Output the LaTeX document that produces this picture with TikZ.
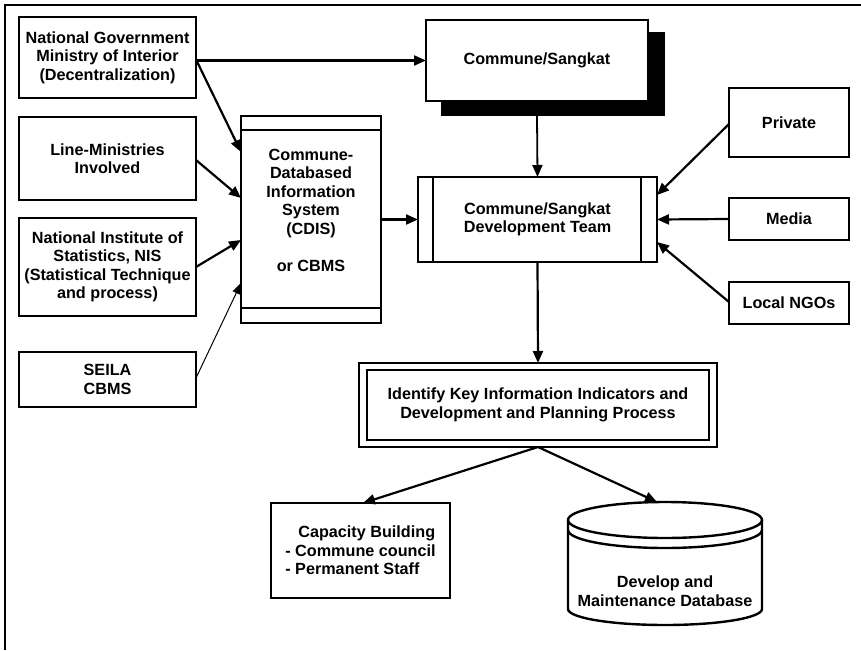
\documentclass[tikz,border=0pt]{standalone}
\usepackage{fontspec}
\setmainfont{Liberation Sans}
\usetikzlibrary{arrows.meta,calc}
\begin{document}
\begin{tikzpicture}[x=1pt,y=-1pt,
  lbl/.style={font=\bfseries\fontsize{16.2}{18.5}\selectfont},
  box/.style={draw, line width=2.6pt, fill=white, inner sep=0pt, outer sep=0pt, align=center, lbl},
  thinbox/.style={box, line width=1.1pt},
  txt/.style={inner sep=0pt, outer sep=0pt, align=center, lbl},
  arr/.style={line width=2.2pt, -{Triangle[length=12pt,width=10pt]}},
  thinarr/.style={line width=1pt, -{Triangle[length=11pt,width=8pt]}},
  inner/.style={line width=2.4pt}]
\useasboundingbox (0,0) rectangle (861,650);
% frame
\draw[line width=2.4pt] (861,5) -- (5,5) -- (5,650);

% left column
\node[box, minimum width=177pt, minimum height=81pt] (natgov) at (107.5,57.5)
  {National Government\\Ministry of Interior\\(Decentralization)};
\node[box, minimum width=177pt, minimum height=83pt] (linemin) at (107.5,158.5)
  {Line-Ministries\\Involved};
\node[box, minimum width=177pt, minimum height=98pt] (nis) at (107.5,267)
  {National Institute of\\Statistics, NIS\\(Statistical Technique\\and process)};
\node[thinbox, minimum width=177pt, minimum height=55pt] (seila) at (107.5,379.5)
  {SEILA\\CBMS};

% CDIS
\node[box, minimum width=140pt, minimum height=207pt] (cdis) at (311,219.5) {};
\draw[inner] ([yshift=-14pt]cdis.north west) -- ([yshift=-14pt]cdis.north east);
\draw[inner] ([yshift=15pt]cdis.south west) -- ([yshift=15pt]cdis.south east);
\node[txt] (cdistext) at (311,210) {Commune-\\Databased\\Information\\System\\(CDIS)\\[18.5pt]or CBMS};

% Commune/Sangkat with shadow
\fill (441,32) rectangle (665,116);
\node[box, minimum width=222pt, minimum height=81pt] (commune) at (537,60.5) {Commune/Sangkat};

% Development team
\node[box, minimum width=239pt, minimum height=85pt] (devteam) at (537.5,219.5)
  {Commune/Sangkat\\Development Team};
\draw[inner] ([xshift=15pt]devteam.north west) -- ([xshift=15pt]devteam.south west);
\draw[inner] ([xshift=-16pt]devteam.north east) -- ([xshift=-16pt]devteam.south east);

% right column
\node[box, minimum width=120pt, minimum height=69pt] (private) at (789,122.5) {Private};
\node[box, minimum width=120pt, minimum height=42pt] (media) at (789,219) {Media};
\node[box, minimum width=120pt, minimum height=42pt] (ngos) at (789,303) {Local NGOs};

% Identify
\node[box, minimum width=358pt, minimum height=84pt] (identify) at (538,405)
  {Identify Key Information Indicators and\\Development and Planning Process};
\draw[inner] ([shift={(8pt,-7pt)}]identify.north west) rectangle ([shift={(-8pt,7pt)}]identify.south east);

% Capacity
\node[box, minimum width=179pt, minimum height=95pt, align=left] (capacity) at (360.5,550.5)
  {\hspace*{13pt}Capacity Building\\- Commune council\\- Permanent Staff};

% Database cylinder
\begin{scope}[line width=2.4pt]
\fill[white] (568,520) -- (568,609) .. controls (568,617.84) and (611.4,625) .. (665,625)
  .. controls (718.6,625) and (762,617.84) .. (762,609) -- (762,520) -- cycle;
\draw (568,520) .. controls (568,529.94) and (611.4,538) .. (665,538)
  .. controls (718.6,538) and (762,529.94) .. (762,520)
  .. controls (762,510.06) and (718.6,502) .. (665,502)
  .. controls (611.4,502) and (568,510.06) .. (568,520) -- cycle;
\draw (568,530) .. controls (568,539.94) and (611.4,548) .. (665,548)
  .. controls (718.6,548) and (762,539.94) .. (762,530);
\draw (568,520) -- (568,609) .. controls (568,617.84) and (611.4,625) .. (665,625)
  .. controls (718.6,625) and (762,617.84) .. (762,609) -- (762,520);
\end{scope}
\node[txt] (db) at (665,591) {Develop and\\Maintenance Database};
\coordinate (dbtop) at (657,502);

% connectors
\draw[arr] (natgov.east |- commune.west) -- (commune.west);
\draw[arr] ([yshift=-2pt]natgov.east) -- ([yshift=67.5pt]cdis.west);
\draw[arr] ([yshift=-1.5pt]linemin.east) -- ([yshift=21.5pt]cdis.west);
\draw[arr] (nis.east) -- ([yshift=-20.5pt]cdis.west);
\draw[thinarr] ([yshift=1.5pt]seila.east) -- ([yshift=-63.5pt]cdis.west);
\draw[arr] (cdis.east) -- (devteam.west);
\draw[arr, line width=1.8pt] ([yshift=-15pt]commune.south) -- (devteam.north);
\draw[arr] ([yshift=-1.5pt]private.west) -- ([yshift=24.5pt]devteam.east);
\draw[arr] (media.west) -- (devteam.east);
\draw[arr] ([yshift=1pt]ngos.west) -- ([yshift=-22.5pt]devteam.east);
\draw[arr] (devteam.south) -- (identify.north);
\draw[arr] (identify.south) -- ([xshift=2.5pt]capacity.north);
\draw[arr] (identify.south) -- (dbtop);
\end{tikzpicture}
\end{document}
